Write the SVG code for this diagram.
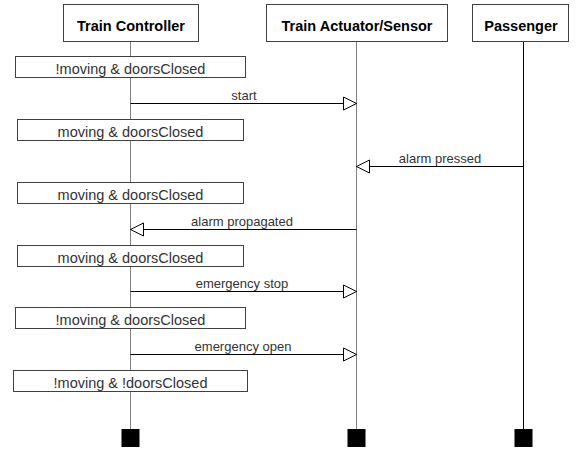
<svg xmlns="http://www.w3.org/2000/svg" width="576" height="449" viewBox="0 0 576 449">
<style>
.hdr{fill:#fff;stroke:#404040;stroke-width:1}
.hdrt{font-family:"Liberation Sans",Arial,sans-serif;font-weight:bold;font-size:14.5px;text-anchor:middle;fill:#000}
.life{stroke:#808080;stroke-width:1;fill:none}
.lifeb{stroke:#000;stroke-width:1;fill:none}
.state{fill:#fff;stroke:#404040;stroke-width:1}
.statet{font-family:"Liberation Sans",Arial,sans-serif;font-size:14.5px;text-anchor:middle;fill:#333}
.msg{stroke:#000;stroke-width:1;fill:none;marker-end:url(#open)}
.msgt{font-family:"Liberation Sans",Arial,sans-serif;font-size:13px;text-anchor:middle;fill:#333}
.end{fill:#000}
</style>
<defs>
<marker id="open" viewBox="0 0 15 15" refX="14" refY="7.5" markerWidth="15" markerHeight="15" markerUnits="userSpaceOnUse" orient="auto">
<path d="M1,1 L14,7.5 L1,14 Z" fill="#fff" stroke="#000" stroke-width="1"/>
</marker>
</defs>
<g id="lifelines">
<line class="life" x1="130.5" y1="42" x2="130.5" y2="430"/>
<line class="life" x1="356.5" y1="42" x2="356.5" y2="430"/>
<line class="lifeb" x1="523.5" y1="42" x2="523.5" y2="430"/>
</g>
<g id="train-controller">
<rect class="hdr" x="63.5" y="4.5" width="135" height="37"/>
<text class="hdrt" x="131" y="31">Train Controller</text>
<rect class="end" x="121.5" y="429" width="18" height="18"/>
</g>
<g id="train-actuator-sensor">
<rect class="hdr" x="266.5" y="4.5" width="181" height="37"/>
<text class="hdrt" x="357" y="31">Train Actuator/Sensor</text>
<rect class="end" x="347.5" y="429" width="18" height="18"/>
</g>
<g id="passenger">
<rect class="hdr" x="472.5" y="4.5" width="96" height="37"/>
<text class="hdrt" x="521" y="31">Passenger</text>
<rect class="end" x="514.5" y="429" width="18" height="18"/>
</g>
<g id="state1"><rect class="state" x="15.5" y="56.5" width="230" height="21"/><text class="statet" x="130.5" y="74">!moving &amp; doorsClosed</text></g>
<g id="state2"><rect class="state" x="17.5" y="119.5" width="226" height="21"/><text class="statet" x="130.5" y="137">moving &amp; doorsClosed</text></g>
<g id="state3"><rect class="state" x="17.5" y="182.5" width="226" height="21"/><text class="statet" x="130.5" y="200">moving &amp; doorsClosed</text></g>
<g id="state4"><rect class="state" x="17.5" y="245.5" width="226" height="21"/><text class="statet" x="130.5" y="263">moving &amp; doorsClosed</text></g>
<g id="state5"><rect class="state" x="15.5" y="307.5" width="230" height="21"/><text class="statet" x="130.5" y="325">!moving &amp; doorsClosed</text></g>
<g id="state6"><rect class="state" x="13.5" y="370.5" width="234" height="21"/><text class="statet" x="130.5" y="388">!moving &amp; !doorsClosed</text></g>
<g id="connectors">
<line class="msg" x1="130.5" y1="103.5" x2="356.5" y2="103.5"/>
<text class="msgt" x="244" y="100">start</text>
<line class="msg" x1="523.5" y1="166.5" x2="356.5" y2="166.5"/>
<text class="msgt" x="440" y="163">alarm pressed</text>
<line class="msg" x1="356.5" y1="229.5" x2="130.5" y2="229.5"/>
<text class="msgt" x="242" y="226">alarm propagated</text>
<line class="msg" x1="130.5" y1="291.5" x2="356.5" y2="291.5"/>
<text class="msgt" x="242" y="288">emergency stop</text>
<line class="msg" x1="130.5" y1="354.5" x2="356.5" y2="354.5"/>
<text class="msgt" x="243" y="351">emergency open</text>
</g>
</svg>
